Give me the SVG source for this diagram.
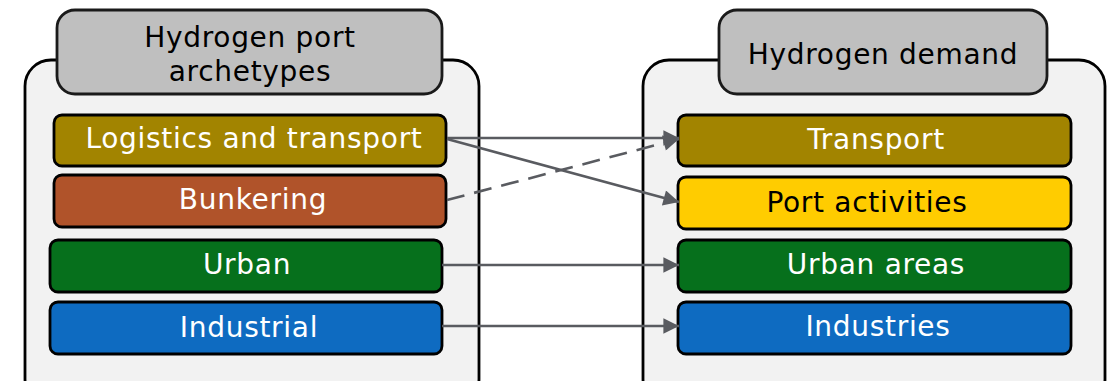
<svg xmlns="http://www.w3.org/2000/svg" width="1109" height="381" viewBox="0 0 1109 381">
<style>
.cont{fill:#F2F2F2;stroke:#000;stroke-width:2.8}
.hdr{fill:#BFBFBF;stroke:#1a1a1a;stroke-width:2.8}
.box{stroke:#000;stroke-width:2.8}
text{font-family:"DejaVu Sans",Verdana,sans-serif;font-size:28px;text-anchor:middle;letter-spacing:0.7px}
.w{fill:#fff}
.k{fill:#000}
.conn{stroke:#595B60;stroke-width:2.6;fill:none}
</style>
<defs>
<marker id="ah" viewBox="0 0 10 10" refX="10" refY="5" markerWidth="6.5" markerHeight="6" markerUnits="strokeWidth" orient="auto">
<path d="M0,0 L10,5 L0,10 Z" fill="#595B60"/>
</marker>
</defs>
<g id="left-container">
<rect class="cont" x="25" y="60" width="454" height="345" rx="26"/>
</g>
<g id="left-header">
<rect class="hdr" x="57" y="10" width="385" height="84" rx="18"/>
<text class="k" x="250" y="47">Hydrogen port</text>
<text class="k" x="250" y="81">archetypes</text>
</g>
<g id="right-container">
<rect class="cont" x="643" y="60" width="462" height="345" rx="26"/>
</g>
<g id="right-header">
<rect class="hdr" x="719" y="10" width="328" height="84" rx="18"/>
<text class="k" x="883" y="64">Hydrogen demand</text>
</g>
<g id="logistics">
<rect class="box" x="54" y="115" width="392" height="51" rx="8" fill="#A28400"/>
<text class="w" x="254" y="148">Logistics and transport</text>
</g>
<g id="bunkering">
<rect class="box" x="54" y="175" width="392" height="52" rx="8" fill="#B0532A"/>
<text class="w" x="253" y="209">Bunkering</text>
</g>
<g id="urban">
<rect class="box" x="50" y="240" width="392" height="52" rx="8" fill="#06701C"/>
<text class="w" x="247" y="274">Urban</text>
</g>
<g id="industrial">
<rect class="box" x="50" y="302" width="392" height="52" rx="8" fill="#0E6BC1"/>
<text class="w" x="249" y="337">Industrial</text>
</g>
<g id="transport">
<rect class="box" x="678" y="115" width="393" height="51" rx="8" fill="#A28400"/>
<text class="w" x="876" y="149">Transport</text>
</g>
<g id="port-activities">
<rect class="box" x="678" y="177" width="393" height="52" rx="8" fill="#FFCC00"/>
<text class="k" x="867" y="212">Port activities</text>
</g>
<g id="urban-areas">
<rect class="box" x="678" y="240" width="393" height="52" rx="8" fill="#06701C"/>
<text class="w" x="876" y="274">Urban areas</text>
</g>
<g id="industries">
<rect class="box" x="678" y="302" width="393" height="52" rx="8" fill="#0E6BC1"/>
<text class="w" x="878" y="336">Industries</text>
</g>
<g id="connectors">
<line class="conn" x1="447" y1="138" x2="679" y2="138" marker-end="url(#ah)"/>
<line class="conn" x1="447" y1="139" x2="679" y2="202" marker-end="url(#ah)"/>
<line class="conn" x1="447" y1="200" x2="679" y2="139" stroke-dasharray="18,10" marker-end="url(#ah)"/>
<line class="conn" x1="442" y1="265" x2="679" y2="265" marker-end="url(#ah)"/>
<line class="conn" x1="442" y1="326" x2="679" y2="326" marker-end="url(#ah)"/>
</g>
</svg>
